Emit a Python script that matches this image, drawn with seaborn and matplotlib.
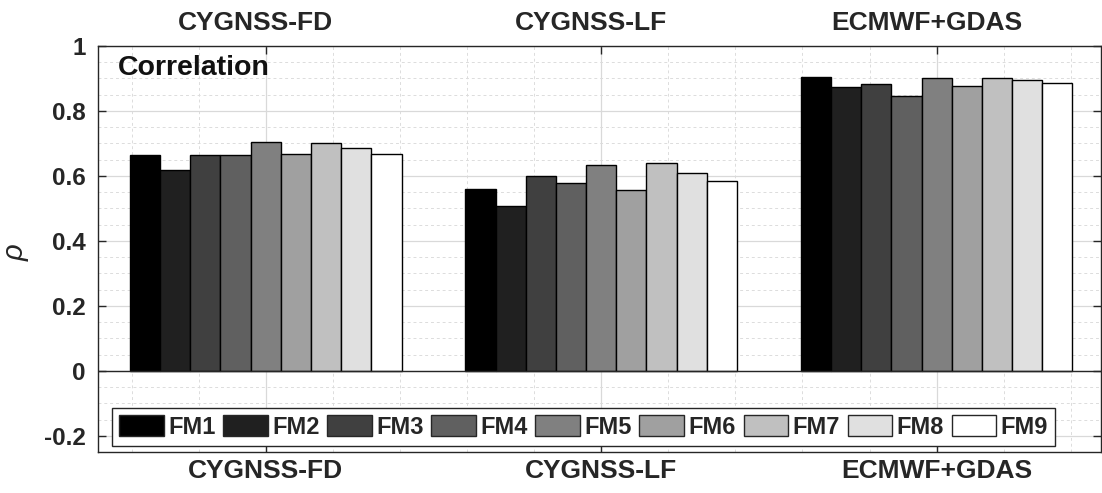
import matplotlib
matplotlib.use("Agg")
import matplotlib.pyplot as plt
import seaborn as sns
import pandas as pd
import numpy as np
from matplotlib.ticker import MultipleLocator

categories = ["CYGNSS-FD", "CYGNSS-LF", "ECMWF+GDAS"]
series = ["FM1", "FM2", "FM3", "FM4", "FM5", "FM6", "FM7", "FM8", "FM9"]
fd_values = [0.665, 0.618, 0.664, 0.664, 0.705, 0.668, 0.700, 0.687, 0.668]
lf_values = [0.561, 0.508, 0.600, 0.577, 0.633, 0.556, 0.641, 0.609, 0.583]
ec_values = [0.905, 0.874, 0.882, 0.845, 0.900, 0.878, 0.900, 0.896, 0.887]
colors = ["#000000", "#202020", "#404040", "#606060", "#808080",
          "#a0a0a0", "#c0c0c0", "#e0e0e0", "#ffffff"]
yticks = [-0.2, 0, 0.2, 0.4, 0.6, 0.8, 1]
ytick_labels = ["-0.2", "0", "0.2", "0.4", "0.6", "0.8", "1"]

rows = []
for cat, vals in zip(categories, [fd_values, lf_values, ec_values]):
    for s, v in zip(series, vals):
        rows.append({"cat": cat, "fm": s, "rho": v})
df = pd.DataFrame(rows)

sns.set_theme(style="white")
plt.rcParams["font.family"] = ["Liberation Sans", "DejaVu Sans"]
plt.rcParams["font.weight"] = "bold"

TXT = "#262626"
fig = plt.figure(figsize=(11.02, 4.93), dpi=100)
ax = fig.add_axes([98/1102, 1 - 452/493, (1101-98)/1102, (452-46)/493])

sns.barplot(data=df, x="cat", y="rho", hue="fm", order=categories,
            hue_order=series, palette=colors, width=0.81, saturation=1,
            edgecolor="black", linewidth=1.0, ax=ax, errorbar=None, zorder=3)

ax.set_xlim(-0.5, 2.49)
ax.set_ylim(-0.25, 1.0)
ax.set_yticks(yticks)
ax.set_yticklabels(ytick_labels, fontsize=17.5, fontweight="bold", color=TXT)
ax.yaxis.set_minor_locator(MultipleLocator(0.05))
ax.xaxis.set_minor_locator(MultipleLocator(0.2))
ax.set_xticks(range(len(categories)))
ax.set_xticklabels(categories, fontsize=19, fontweight="bold", color=TXT)
ax.tick_params(axis="x", which="major", direction="in", length=6, width=1,
               top=True, bottom=True, labeltop=False, labelbottom=True, pad=5,
               colors=TXT)
ax.tick_params(axis="y", which="major", direction="in", length=6, width=1,
               left=True, right=True, pad=9, colors=TXT)
ax.tick_params(which="minor", length=0)

top = ax.secondary_xaxis("top")
top.set_xticks([i - 0.03 for i in range(len(categories))])
top.set_xticklabels(categories, fontsize=19, fontweight="bold", color=TXT)
top.tick_params(axis="x", length=0, pad=8, colors=TXT)
top.spines["top"].set_visible(False)

ax.grid(True, which="major", color="#d9d9d9", linewidth=0.9, linestyle="-", zorder=0)
ax.grid(True, which="minor", color="#dcdcdc", linewidth=0.7, linestyle=(0, (3, 3)), zorder=0)
ax.set_axisbelow(True)
ax.axhline(0, color=TXT, linewidth=1.0, zorder=4)

for sp in ax.spines.values():
    sp.set_color(TXT)
    sp.set_linewidth(1.0)

ax.set_xlabel("")
ax.set_ylabel("ρ", fontsize=21, color=TXT, fontweight="normal", fontstyle="italic")
ax.yaxis.set_label_coords(-0.068, 0.49)

ax.text(0.02, 0.978, "Correlation", transform=ax.transAxes, fontsize=20.5,
        fontweight="bold", va="top", ha="left", color="#111111")

handles, labels = ax.get_legend_handles_labels()
leg = ax.legend(handles, labels, ncol=9, loc="lower center",
                bbox_to_anchor=(0.484, 0.015), borderaxespad=0,
                frameon=True, fancybox=False, edgecolor=TXT,
                framealpha=1, prop={"weight": "bold", "size": 17},
                handlelength=1.9, handleheight=1.0, handletextpad=0.17,
                columnspacing=0.33, borderpad=0.3)
leg.get_frame().set_linewidth(1.0)
for h in leg.legend_handles:
    h.set_edgecolor(TXT)
    h.set_linewidth(1.0)

fig.savefig("out.png", dpi=100)
